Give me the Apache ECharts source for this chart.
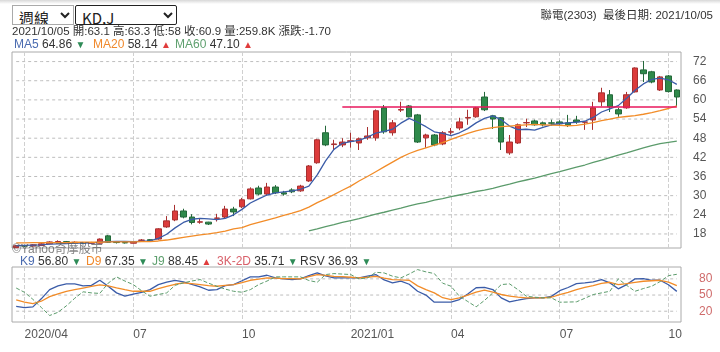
<!DOCTYPE html>
<html>
<head>
<meta charset="utf-8">
<script src="https://cdn.jsdelivr.net/npm/echarts@6/dist/echarts.min.js"></script>
<style>
  body { margin: 0; background: #fff; font-family: "Liberation Sans", "Noto Sans CJK TC", sans-serif; color: #333; }
  .wrap { position: relative; width: 720px; height: 352px; overflow: hidden; }
  #chart { position: absolute; left: 0; top: 0; width: 720px; height: 352px; }
  .shade { position: absolute; left: 0; top: 0; width: 720px; height: 4px; background: linear-gradient(#d8d8d8, #fff); }
  .sel { position: absolute; top: 5px; height: 20px; font-size: 15px; font-family: "Noto Sans CJK TC", "Liberation Sans", sans-serif; background: #fff; color: #222; padding: 0 2px; }
  #period { left: 12px; width: 62px; border: 1px solid #aaa; }
  #indicator { left: 75px; width: 102px; border: 1px solid #222; border-radius: 2px; }
  .txt { position: absolute; white-space: nowrap; font-size: 11.5px; line-height: 14px; color: #333; }
  .lg { position: absolute; white-space: nowrap; font-size: 12px; line-height: 14px; color: #333; }
  .mark { position: absolute; left: 12px; top: 239px; font-size: 12px; color: rgba(90, 90, 90, 0.75); white-space: nowrap; }
  .up { color: #e03c3c; font-size: 10px; }
  .dn { color: #2e8b57; font-size: 10px; }
</style>
</head>
<body>
<div class="wrap">
  <div id="chart"></div>
  <div class="shade"></div>
  <select class="sel" id="period"><option>週線</option></select>
  <select class="sel" id="indicator"><option>KD,J</option></select>
  <div class="txt" style="right:7px; top:8px">聯電(2303)&nbsp; 最後日期: 2021/10/05</div>
  <div class="txt" style="left:12px; top:24px">2021/10/05 開:63.1 高:63.3 低:58 收:60.9 量:259.8K 漲跌:-1.70</div>

  <div class="lg" style="left:14px; top:37px"><span style="color:#4a6bb0">MA5</span> 64.86 <span class="dn">▼</span></div>
  <div class="lg" style="left:93px; top:37px"><span style="color:#f0892c">MA20</span> 58.14 <span class="up">▲</span></div>
  <div class="lg" style="left:175px; top:37px"><span style="color:#5fa06f">MA60</span> 47.10 <span class="up">▲</span></div>

  <div class="lg" style="left:20px; top:254px"><span style="color:#4a6bb0">K9</span> 56.80 <span class="dn">▼</span></div>
  <div class="lg" style="left:86px; top:254px"><span style="color:#f0892c">D9</span> 67.35 <span class="dn">▼</span></div>
  <div class="lg" style="left:152px; top:254px"><span style="color:#5fa06f">J9</span> 88.45 <span class="up">▲</span></div>
  <div class="lg" style="left:217px; top:254px"><span style="color:#d9606a">3K-2D</span> 35.71 <span class="dn">▼</span></div>
  <div class="lg" style="left:300px; top:254px">RSV 36.93 <span class="dn">▼</span></div>

  <div class="mark">©Yahoo奇摩股市</div>
</div>
<script>
// 週K：每週一個日期
const weeks = [
  '2020/03/30','2020/04/06','2020/04/13','2020/04/20','2020/04/27','2020/05/04','2020/05/11','2020/05/18',
  '2020/05/25','2020/06/01','2020/06/08','2020/06/15','2020/06/22','2020/06/29','2020/07/06','2020/07/13',
  '2020/07/20','2020/07/27','2020/08/03','2020/08/10','2020/08/17','2020/08/24','2020/08/31','2020/09/07',
  '2020/09/14','2020/09/21','2020/09/28','2020/10/05','2020/10/12','2020/10/19','2020/10/26','2020/11/02',
  '2020/11/09','2020/11/16','2020/11/23','2020/11/30','2020/12/07','2020/12/14','2020/12/21','2020/12/28',
  '2021/01/04','2021/01/11','2021/01/18','2021/01/25','2021/02/01','2021/02/08','2021/02/15','2021/02/22',
  '2021/03/01','2021/03/08','2021/03/15','2021/03/22','2021/03/29','2021/04/05','2021/04/12','2021/04/19',
  '2021/04/26','2021/05/03','2021/05/10','2021/05/17','2021/05/24','2021/05/31','2021/06/07','2021/06/14',
  '2021/06/21','2021/06/28','2021/07/05','2021/07/12','2021/07/19','2021/07/26','2021/08/02','2021/08/09',
  '2021/08/16','2021/08/23','2021/08/30','2021/09/06','2021/09/13','2021/09/20','2021/09/27','2021/10/04'
]

// x 軸月份標籤（週索引 -> 文字）
const monthTickIdx = [1, 14, 27, 40, 52, 65, 78]
const monthTickText = ['2020/04', '07', '10', '2021/01', '04', '07', '10']

// [開, 收, 低, 高]
const candles = [
  [13.7,14.3,13.6,14.6],[14.3,14.2,13.9,14.6],[14.2,14.6,14.0,14.8],[14.4,14.9,14.2,15.1],
  [14.9,15.5,14.8,15.7],[15.5,15.6,15.2,16.0],[15.6,15.3,15.1,15.8],[15.3,15.4,15.0,15.7],
  [15.3,15.1,14.9,15.5],[15.1,15.2,14.9,15.5],[15.1,16.4,15.0,16.6],[17.4,15.4,15.2,17.7],
  [15.4,15.3,15.0,15.6],[15.3,15.2,15.0,15.5],[15.1,15.6,15.0,15.8],[16.0,16.1,15.8,16.4],
  [16.2,15.9,15.7,16.4],[16.4,19.6,16.2,19.8],[20.2,22.1,19.9,23.6],[22.4,25.2,22.0,27.1],
  [25.2,23.3,22.9,25.9],[23.3,21.6,21.0,24.2],[21.7,21.8,21.2,22.8],[21.7,21.1,20.8,21.8],
  [22.9,23.0,21.9,24.3],[23.3,25.8,22.7,26.8],[25.8,24.9,23.6,26.5],[26.5,28.7,26.1,29.3],
  [29.0,32.1,28.8,32.6],[32.4,30.5,30.1,33.1],[30.5,32.7,30.0,34.0],[32.7,30.9,30.5,33.3],
  [30.9,30.5,30.0,31.5],[31.8,31.2,30.8,32.3],[31.5,33.0,31.2,33.4],[34.6,39.3,34.3,39.6],
  [40.3,47.5,40.0,47.8],[49.7,45.9,45.5,51.9],[46.0,46.2,44.3,47.5],[45.9,46.8,45.2,48.0],
  [47.0,47.2,45.0,49.7],[46.5,47.8,44.3,48.2],[48.1,48.7,47.5,51.5],[48.1,56.6,47.2,57.0],
  [57.5,50.0,49.4,58.4],[49.7,52.8,48.8,53.7],[56.8,57.0,56.2,59.4],[58.1,54.7,54.5,58.4],
  [55.3,46.8,46.5,55.6],[48.1,49.0,45.0,49.4],[49.0,45.9,45.5,49.3],[46.2,49.7,45.8,50.2],
  [49.9,50.0,49.1,51.2],[51.2,53.1,50.5,54.4],[54.3,54.5,52.2,56.9],[54.7,57.5,54.4,57.8],
  [60.9,56.9,56.5,62.5],[55.0,54.0,50.9,55.3],[54.4,46.8,44.3,54.6],[43.4,46.8,42.8,49.0],
  [46.5,52.2,46.2,52.6],[52.8,52.9,51.5,54.1],[53.4,52.2,51.9,53.8],[52.8,52.2,51.7,53.2],
  [52.8,52.7,51.9,53.8],[53.1,52.5,52.2,53.6],[52.8,52.2,51.5,55.3],[53.7,53.1,52.5,55.0],
  [53.0,53.1,50.6,53.4],[53.7,57.5,50.6,59.4],[59.4,62.2,58.0,63.8],[61.6,57.8,56.2,63.1],
  [56.9,55.6,54.7,57.5],[57.5,61.6,57.2,62.5],[62.5,70.0,62.3,70.2],[69.4,68.2,65.6,72.2],
  [68.8,65.6,65.2,69.1],[63.1,67.2,62.8,67.5],[67.5,62.6,62.3,67.8],[63.1,60.9,58.0,63.3]
]

const ma5 = [
  14.3,14.4,14.5,14.6,14.8,14.9,15.0,15.1,15.1,15.2,15.4,15.6,15.7,15.7,15.6,15.7,
  15.8,16.6,17.9,19.9,21.6,22.6,22.9,22.7,22.5,22.9,24.0,25.7,27.7,29.0,30.2,30.9,
  31.2,31.5,32.0,33.0,36.5,40.9,44.5,46.4,46.9,47.3,48.3,49.6,50.1,50.8,52.7,54.2,
  53.0,51.6,50.0,49.5,48.8,49.7,51.0,52.8,54.2,55.0,53.8,51.8,50.7,50.8,50.5,51.4,
  52.2,52.6,52.8,53.0,53.3,54.5,56.2,57.2,58.2,60.5,63.0,65.0,66.4,66.8,66.3,64.86
]
const ma20 = [
  15.2,15.2,15.3,15.3,15.3,15.3,15.3,15.4,15.4,15.4,15.4,15.5,15.5,15.5,15.5,15.6,
  15.6,15.8,16.1,16.5,16.9,17.3,17.7,18.0,18.4,18.9,19.6,20.0,20.9,21.6,22.3,23.0,
  23.8,24.5,25.3,26.4,27.8,29.0,30.3,31.7,33.0,34.6,36.0,37.5,39.0,40.5,42.0,43.2,
  44.2,45.0,45.8,46.6,47.6,48.6,49.5,50.3,50.9,51.3,51.6,51.8,52.0,52.2,52.3,52.2,
  52.1,52.0,51.9,52.0,52.4,52.9,53.5,54.0,54.5,54.8,55.1,55.5,56.0,56.6,57.3,58.14
]
const ma60 = [
  null,null,null,null,null,null,null,null,null,null,null,null,null,null,null,null,
  null,null,null,null,null,null,null,null,null,null,null,null,null,null,null,null,
  null,null,null,19.0,19.6,20.3,20.9,21.6,22.2,22.8,23.5,24.2,24.8,25.5,26.1,26.8,
  27.4,27.9,28.6,29.1,29.7,30.2,30.7,31.3,31.7,32.3,33.0,33.6,34.3,34.9,35.5,36.2,
  36.9,37.5,38.2,38.9,39.6,40.4,41.1,41.9,42.7,43.4,44.2,45.0,45.7,46.3,46.7,47.1
]

// 壓力線
const resistLevel = 57.7
const resistFrom = 39

const k9 = [
  29,26.5,28,43,60,67,70.7,70.7,67,68,77.4,66.3,54,47.8,51.5,55,
  60,69.4,74,77.4,74.5,70,65.2,58.9,60.2,67.6,69.4,76.5,83.7,83.7,86.7,82,
  80,78.7,80,86,91,85.5,81.8,81.8,81.8,81.8,85,88,78,72.6,75.6,70,
  57,50,36.7,36.7,36.7,41.7,52,63.5,64.4,60.2,44.8,37.4,40.4,43.5,44.8,44.8,
  47.5,58,64,71.3,72.6,74.4,78.7,72.6,61.5,69.4,80,80.6,77.4,77.4,69,56.8
]
const d9 = [
  41,37,34,38.5,47,52,57,60,63,66,69,67,63.3,60,57,57,
  57,62,66,70,72.6,71,69.4,67.5,66.3,68,69.4,73,77.4,79.5,81.8,81.2,
  80.6,80.3,80,84,88,86.5,84.8,84,83,82,83,84.8,81.5,78.7,78,77.4,
  67,60,54,45,41.7,44.8,50,55.2,58.9,55.2,51,47.8,46,44.8,44.8,44.8,
  45.9,50.9,55,60.2,64,67.6,71.5,73.7,69.4,71.3,73.5,75.6,76.5,77.4,74,67.35
]
const j9 = [
  63,55,42,27,12,18,30,44,56,54,53,72,83.7,76,69.4,58,
  47.8,51,54,68,72.6,76,78.7,72,66.3,61,57,55.2,60,69.4,76,83.7,
  83.7,83.7,83.7,77,73.7,88,89.8,88.9,88,80,81.8,92.2,91,85,81.8,89,
  97.2,93,89.8,72,66.3,47.8,38,28.1,40,54,69.4,70.7,60,47.8,46,44.8,
  44.8,36.7,37,37.4,44,50.9,54,57,80,68,57,62,66.3,75,86,88.45
]

const priceTicks = [18, 24, 30, 36, 42, 48, 54, 60, 66, 72]
const kdTicks = [20, 50, 80]

const chart = echarts.init(document.getElementById('chart'))

const isMonthTick = (idx) => monthTickIdx.includes(idx)
const gridColor = '#d0d0d0'
const vLine = { show: true, interval: isMonthTick, alignWithLabel: true, lineStyle: { type: 'dashed', color: gridColor } }

// 橫向虛線格線：每個刻度一條水平折線（和 J9 虛線同一種畫法）
const hGridSeries = (vals, axisIdx) => vals.map(v => ({
  type: 'line', xAxisIndex: axisIdx, yAxisIndex: axisIdx, silent: true, z: 1,
  symbol: 'none', animation: false, tooltip: { show: false },
  data: weeks.map(() => v),
  lineStyle: { color: '#bdbdbd', width: 1, type: [3, 3] }
}))

const option = {
  animation: false,
  grid: [
    { left: 12, right: 39, top: 52, height: 196, show: true, borderColor: '#aaa', borderWidth: 1 },
    { left: 12, right: 39, top: 267, height: 55, show: true, borderColor: '#aaa', borderWidth: 1 }
  ],
  xAxis: [
    {
      type: 'category', gridIndex: 0, data: weeks, boundaryGap: true,
      axisLine: { show: false }, axisTick: { show: false, alignWithLabel: true }, axisLabel: { show: false },
      splitLine: vLine
    },
    {
      type: 'category', gridIndex: 1, data: weeks, boundaryGap: true,
      axisLine: { show: false }, axisTick: { show: false, alignWithLabel: true },
      axisLabel: {
        interval: isMonthTick, align: 'left', color: '#555', fontSize: 12, margin: 7,
        formatter: (v, idx) => monthTickText[monthTickIdx.indexOf(idx)] || ''
      },
      splitLine: vLine
    }
  ],
  yAxis: [
    {
      type: 'value', gridIndex: 0, position: 'right', min: 13.6, max: 75,
      axisLine: { show: false }, axisTick: { show: false, customValues: priceTicks },
      axisLabel: { customValues: priceTicks, color: '#555', fontSize: 12, margin: 12 },
      splitLine: { show: false }
    },
    {
      type: 'value', gridIndex: 1, position: 'right', min: 0, max: 102,
      axisLine: { show: false }, axisTick: { show: false, customValues: kdTicks },
      axisLabel: { customValues: kdTicks, color: '#cf6b6b', fontSize: 12, margin: 18 },
      splitLine: { show: false }
    }
  ],
  series: [
    ...hGridSeries(priceTicks, 0),
    ...hGridSeries(kdTicks, 1),
    {
      name: 'K線', type: 'candlestick', xAxisIndex: 0, yAxisIndex: 0, data: candles, barWidth: 6, z: 3,
      itemStyle: { color: '#dc3b3b', borderColor: '#a83030', color0: '#2f8a4b', borderColor0: '#24683a', borderWidth: 1 },
      markLine: {
        silent: true, symbol: 'none', label: { show: false },
        lineStyle: { color: '#e8175d', type: 'solid', width: 1.5 },
        data: [[{ coord: [resistFrom, resistLevel] }, { coord: [weeks.length - 1, resistLevel] }]]
      }
    },
    { name: 'MA5', type: 'line', xAxisIndex: 0, yAxisIndex: 0, data: ma5, symbol: 'none', z: 4, lineStyle: { color: '#3b5ca8', width: 1.3 } },
    { name: 'MA20', type: 'line', xAxisIndex: 0, yAxisIndex: 0, data: ma20, symbol: 'none', z: 4, lineStyle: { color: '#f28c28', width: 1.3 } },
    { name: 'MA60', type: 'line', xAxisIndex: 0, yAxisIndex: 0, data: ma60, symbol: 'none', z: 4, lineStyle: { color: '#5b9b6b', width: 1.3 } },
    { name: 'K9', type: 'line', xAxisIndex: 1, yAxisIndex: 1, data: k9, symbol: 'none', z: 4, lineStyle: { color: '#3b5ca8', width: 1.3 } },
    { name: 'D9', type: 'line', xAxisIndex: 1, yAxisIndex: 1, data: d9, symbol: 'none', z: 4, lineStyle: { color: '#f28c28', width: 1.3 } },
    { name: 'J9', type: 'line', xAxisIndex: 1, yAxisIndex: 1, data: j9, symbol: 'none', z: 4, lineStyle: { color: '#5b9b6b', width: 1, type: 'dashed' } }
  ]
}

chart.setOption(option)
</script>
</body>
</html>
